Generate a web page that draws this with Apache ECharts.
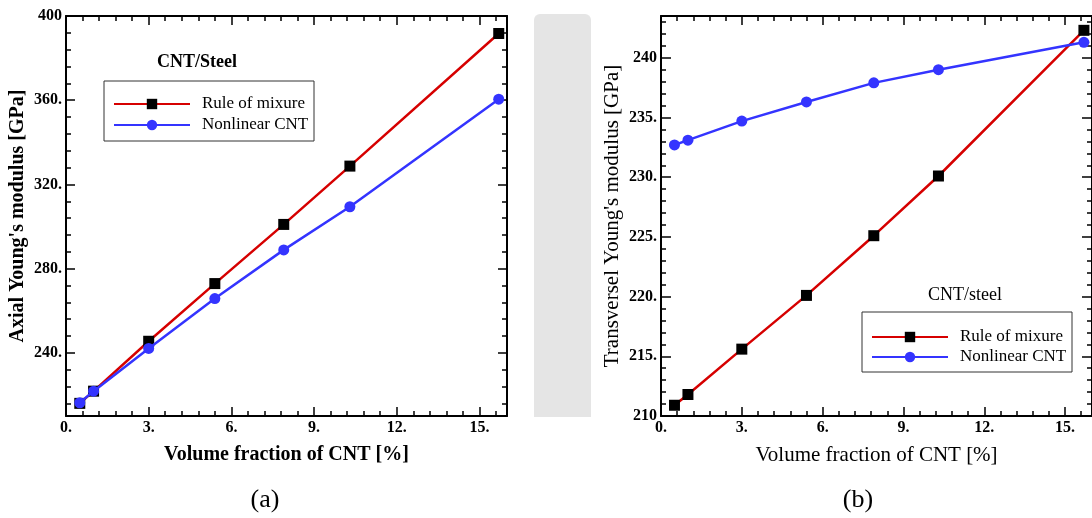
<!DOCTYPE html>
<html><head><meta charset="utf-8">
<script src="https://cdn.jsdelivr.net/npm/echarts@6/dist/echarts.min.js"></script>
<style>html,body{margin:0;padding:0;background:#fff}#c{width:1092px;height:518px}</style>
</head><body><div id="c"></div>
<script>
// ---- data ----
const volumeFraction = [0.5, 1.0, 3.0, 5.4, 7.9, 10.3, 15.7];
const axialRuleOfMixture = [216.0, 221.8, 245.5, 272.9, 301.0, 328.7, 391.7];
const axialNonlinearCNT = [216.3, 221.8, 242.1, 265.8, 288.9, 309.4, 360.5];
const transRuleOfMixture = [210.9, 211.8, 215.6, 220.1, 225.1, 230.1, 242.3];
const transNonlinearCNT = [232.7, 233.1, 234.7, 236.3, 237.9, 239.0, 241.3];
const seriesNames = ['Rule of mixure', 'Nonlinear CNT'];
const xTickValues = [0, 3, 6, 9, 12, 15];
const xTickLabels = ['0.', '3.', '6.', '9.', '12.', '15.'];
const axialTickValues = [240, 280, 320, 360, 400];
const axialTickLabels = ['240.', '280.', '320.', '360.', '400'];
const transTickValues = [210, 215, 220, 225, 230, 235, 240];
const transTickLabels = ['210', '215.', '220.', '225.', '230.', '235.', '240'];

const F = '"Liberation Serif", "Times New Roman", serif';
const RED = '#d60000', BLUE = '#3434ff';

const xAxes = [], yAxes = [];

function minorValues(min, max, anchor, step) {
  const out = [];
  let v = anchor;
  while (v - step >= min - 1e-9) v -= step;
  for (; v <= max + 1e-9; v += step) out.push(+v.toFixed(4));
  return out;
}

function addAxes(dim, grid, min, max, majors, labels, step, majorLen, minorLen, name, nameBold, nameSize, nameGap) {
  const list = dim === 'x' ? xAxes : yAxes;
  const positions = dim === 'x' ? ['bottom', 'top'] : ['left', 'right'];
  const minors = minorValues(min, max, majors[0], step);
  let mainIndex = -1;
  positions.forEach((pos, pi) => {
    const main = {
      type: 'value', gridIndex: grid, position: pos, min: min, max: max,
      splitLine: { show: false },
      axisLine: { show: true, onZero: false, lineStyle: { color: '#000', width: 2 } },
      axisTick: { show: true, inside: true, length: majorLen, customValues: majors, lineStyle: { color: '#000', width: 1.5 } },
      axisLabel: {
        show: pi === 0, customValues: majors,
        margin: 4,
        color: '#000', fontFamily: F, fontSize: 16, fontWeight: 'bold',
        formatter: function (v) {
          const i = majors.findIndex(m => Math.abs(m - v) < 1e-6);
          return i >= 0 ? labels[i] : '';
        }
      }
    };
    if (pi === 0) {
      main.name = name;
      main.nameLocation = 'middle';
      main.nameGap = nameGap;
      main.nameTextStyle = { fontFamily: F, fontSize: nameSize, fontWeight: nameBold ? 'bold' : 'normal', color: '#000' };
      mainIndex = list.length;
    }
    list.push(main);
    list.push({
      type: 'value', gridIndex: grid, position: pos, min: min, max: max,
      splitLine: { show: false },
      axisLine: { show: false, onZero: false },
      axisTick: { show: true, inside: true, length: minorLen, customValues: minors, lineStyle: { color: '#000', width: 1.5 } },
      axisLabel: { show: false }
    });
  });
  return mainIndex;
}

const xa0 = addAxes('x', 0, 0, 16, xTickValues, xTickLabels, 0.6, 9, 5, 'Volume fraction of CNT [%]', true, 20, 29);
const ya0 = addAxes('y', 0, 210, 400, axialTickValues, axialTickLabels, 8, 9, 5, "Axial Young's modulus [GPa]", true, 20, 38);
const xa1 = addAxes('x', 1, 0, 16, xTickValues, xTickLabels, 0.6, 9, 5, 'Volume fraction of CNT [%]', false, 21, 29);
const ya1 = addAxes('y', 1, 210, 243.5, transTickValues, transTickLabels, 1, 10, 5, "Transversel Young's modulus [GPa]", false, 21, 38);

function pairs(xs, ys) { return xs.map((x, i) => [x, ys[i]]); }

function lineSeries(name, xi, yi, data, isRule) {
  return {
    type: 'line', name: name, xAxisIndex: xi, yAxisIndex: yi, data: data,
    symbol: isRule ? 'rect' : 'circle', symbolSize: 11,
    lineStyle: { color: isRule ? RED : BLUE, width: 2.5 },
    itemStyle: { color: isRule ? '#000' : BLUE },
    z: isRule ? 2 : 3, animation: false
  };
}

const legendCommon = {
  data: seriesNames, orient: 'vertical', itemWidth: 76, itemHeight: 13, padding: 0,
  selectedMode: false,
  textStyle: { fontFamily: F, fontSize: 17, color: '#000', lineHeight: 18, padding: [0, 0, 0, 7] }
};

const option = {
  backgroundColor: '#fff',
  animation: false,
  grid: [
    { left: 66, right: 585, top: 16, bottom: 102 },
    { left: 661, right: -10, top: 16, bottom: 102 }
  ],
  xAxis: xAxes,
  yAxis: yAxes,
  legend: [
    Object.assign({}, legendCommon, { left: 113, top: 95, itemGap: 3 }),
    Object.assign({}, legendCommon, { left: 871, top: 328, itemGap: 2 })
  ],
  graphic: [
    { type: 'rect', z: -10, shape: { x: 534, y: 14, width: 57, height: 403, r: [6, 6, 0, 0] }, style: { fill: '#e5e5e5' } },
    { type: 'rect', z: 0, shape: { x: 104, y: 81, width: 210, height: 60 }, style: { fill: '#fff', stroke: '#333', lineWidth: 1 } },
    { type: 'rect', z: 0, shape: { x: 862, y: 312, width: 210, height: 60 }, style: { fill: '#fff', stroke: '#333', lineWidth: 1 } },
    { type: 'text', x: 197, y: 62, style: { text: 'CNT/Steel', font: 'bold 18px ' + F, fill: '#000', textAlign: 'center', textVerticalAlign: 'middle' } },
    { type: 'text', x: 965, y: 295, style: { text: 'CNT/steel', font: '18px ' + F, fill: '#000', textAlign: 'center', textVerticalAlign: 'middle' } },
    { type: 'text', x: 265, y: 500, style: { text: '(a)', font: '26px ' + F, fill: '#000', textAlign: 'center', textVerticalAlign: 'middle' } },
    { type: 'text', x: 858, y: 500, style: { text: '(b)', font: '26px ' + F, fill: '#000', textAlign: 'center', textVerticalAlign: 'middle' } }
  ],
  series: [
    lineSeries(seriesNames[0], xa0, ya0, pairs(volumeFraction, axialRuleOfMixture), true),
    lineSeries(seriesNames[1], xa0, ya0, pairs(volumeFraction, axialNonlinearCNT), false),
    lineSeries(seriesNames[0], xa1, ya1, pairs(volumeFraction, transRuleOfMixture), true),
    lineSeries(seriesNames[1], xa1, ya1, pairs(volumeFraction, transNonlinearCNT), false)
  ]
};

const chart = echarts.init(document.getElementById('c'), null, { renderer: 'canvas' });
chart.setOption(option);
</script>
</body></html>
